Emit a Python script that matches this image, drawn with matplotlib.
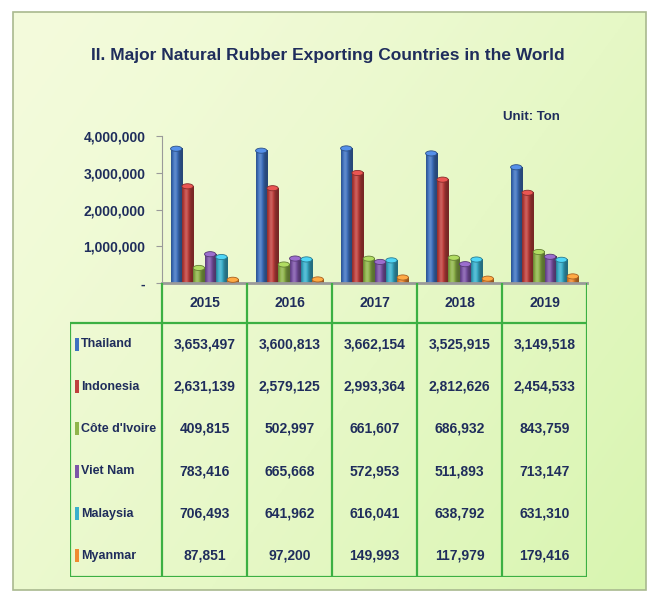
import matplotlib.pyplot as plt
import numpy as np
from matplotlib.colors import to_rgb
from matplotlib.patches import Ellipse, Rectangle
from matplotlib.ticker import FuncFormatter

plt.rcParams['font.family'] = ['Liberation Sans', 'DejaVu Sans']
plt.rcParams['font.weight'] = 'bold'

# data
years = ['2015', '2016', '2017', '2018', '2019']
countries = ['Thailand', 'Indonesia', "Côte d'Ivoire", 'Viet Nam', 'Malaysia', 'Myanmar']
thailand = [3653497, 3600813, 3662154, 3525915, 3149518]
indonesia = [2631139, 2579125, 2993364, 2812626, 2454533]
cote_divoire = [409815, 502997, 661607, 686932, 843759]
viet_nam = [783416, 665668, 572953, 511893, 713147]
malaysia = [706493, 641962, 616041, 638792, 631310]
myanmar = [87851, 97200, 149993, 117979, 179416]
series = [thailand, indonesia, cote_divoire, viet_nam, malaysia, myanmar]
colors = ['#3f72c0', '#c0403d', '#8fb54a', '#7d55a8', '#3ab0cc', '#f08a30']
yticks = [0, 1000000, 2000000, 3000000, 4000000]

navy = '#1f2d5c'
green = '#3cb043'
W, H = 649, 593

fig = plt.figure(figsize=(W / 100, H / 100), dpi=100)
fig.patch.set_facecolor('white')

# background panel with soft gradient
bg = fig.add_axes([0, 0, 1, 1], zorder=-5)
bg.set_xlim(0, W)
bg.set_ylim(H, 0)
bg.axis('off')
gx, gy = np.meshgrid(np.linspace(0, 1, 200), np.linspace(0, 1, 200))
t = np.clip(0.6 * gx + 0.4 * gy, 0, 1)[..., None] ** 1.3
c0 = np.array(to_rgb('#f4fbdc'))
c1 = np.array(to_rgb('#d8f5b0'))
bg.imshow(c0 * (1 - t) + c1 * t, extent=(13, 646, 590, 12), aspect='auto', zorder=0)
bg.add_patch(Rectangle((13, 12), 633, 578, fill=False, edgecolor='#a9b98f', lw=1.2, zorder=1))

fig.text(0.505, 0.907, 'II. Major Natural Rubber Exporting Countries in the World',
         ha='center', va='center', fontsize=12.5, color=navy, fontweight='bold')
fig.text(0.775, 0.803, 'Unit: Ton', ha='left', va='center', fontsize=9.5, color=navy,
         fontweight='bold')

# bar chart
ax = fig.add_axes([162 / W, 1 - 283 / H, 425 / W, 147 / H])
ax.patch.set_alpha(0)
x = np.arange(len(years))
bw = 0.133
n = len(series)


def cylinder(color, steps=40):
    base = np.array(to_rgb(color))
    s = np.linspace(0, 1, steps)
    p = 0.62 + 0.55 * np.exp(-((s - 0.35) / 0.28) ** 2)
    rgb = np.where(p[:, None] <= 1, base * p[:, None],
                   base + (1 - base) * (p[:, None] - 1))
    return np.clip(rgb, 0, 1)[None, :, :]


cap_h = 140000
for i, (vals, col) in enumerate(zip(series, colors)):
    bars = ax.bar(x + (i - (n - 1) / 2) * bw, vals, width=bw, color=col, zorder=2)
    grad = cylinder(col)
    for b in bars:
        x0, w, h = b.get_x(), b.get_width(), b.get_height()
        b.set_visible(False)
        ax.imshow(grad, extent=(x0, x0 + w, 0, h), aspect='auto', zorder=2,
                  interpolation='bilinear')
        top = np.clip(np.array(to_rgb(col)) * 1.15 + 0.05, 0, 1)
        ax.add_patch(Ellipse((x0 + w / 2, h), w, cap_h, facecolor=top,
                             edgecolor=np.array(to_rgb(col)) * 0.7, lw=0.6, zorder=3))

ax.set_xlim(-0.5, len(years) - 0.5)
ax.set_ylim(0, 4000000)
ax.set_yticks(yticks)
ax.yaxis.set_major_formatter(FuncFormatter(lambda v, p: '-' if v == 0 else f'{int(v):,}'))
ax.set_xticks([])
for sp in ['top', 'right']:
    ax.spines[sp].set_visible(False)
ax.spines['left'].set_color('#9a9a9a')
ax.spines['bottom'].set_color('#9a9a9a')
ax.spines['bottom'].set_linewidth(2)
ax.tick_params(axis='y', colors='#9a9a9a', length=4, labelcolor=navy, labelsize=10, pad=8)

# data table under the chart
tab = fig.add_axes([70 / W, 1 - 577 / H, 517 / W, 294 / H])
tab.axis('off')
xl = -0.5 - 92 / 85
hdr = 40 / 42.3
tab.set_xlim(xl, len(years) - 0.5)
tab.set_ylim(len(countries), -hdr)

lk = dict(color=green, lw=1.6, solid_capstyle='butt')
for k in range(len(years) + 1):
    tab.plot([k - 0.5, k - 0.5], [-hdr, len(countries)], **lk)
tab.plot([xl, len(years) - 0.5], [0, 0], **lk)
tab.plot([xl, len(years) - 0.5], [len(countries), len(countries)], **lk)
tab.plot([xl, xl], [0, len(countries)], **lk)

for j, yr in enumerate(years):
    tab.text(j, -hdr / 2, yr, ha='center', va='center', fontsize=10, color=navy)

for r, (name, vals, col) in enumerate(zip(countries, series, colors)):
    tab.add_patch(Rectangle((xl + 5 / 85, r + 0.5 - 0.15), 4 / 85, 0.3,
                            facecolor=col, edgecolor='none'))
    tab.text(xl + 11 / 85, r + 0.5, name, ha='left', va='center', fontsize=9, color=navy)
    for j, v in enumerate(vals):
        tab.text(j, r + 0.5, f'{v:,}', ha='center', va='center', fontsize=10, color=navy)

fig.savefig('out.png', dpi=100)
